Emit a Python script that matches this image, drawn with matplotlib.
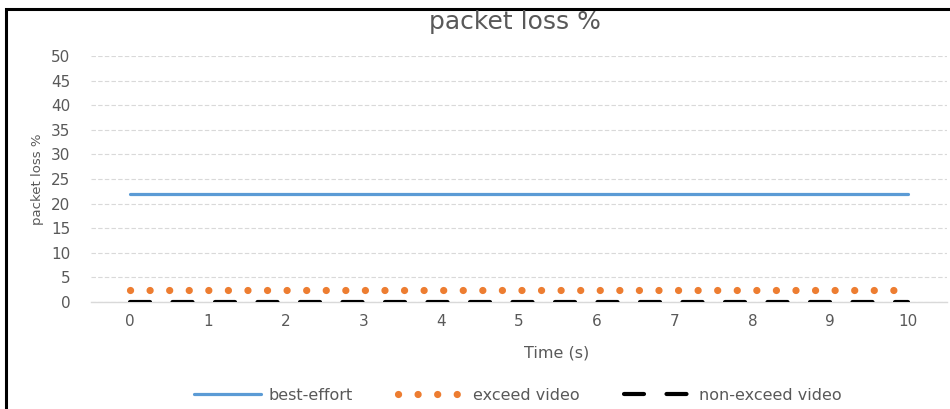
import matplotlib.pyplot as plt
from matplotlib.patches import Rectangle

# data
time_s = [0, 1, 2, 3, 4, 5, 6, 7, 8, 9, 10]
best_effort = [22, 22, 22, 22, 22, 22, 22, 22, 22, 22, 22]
exceed_video = [2.5, 2.5, 2.5, 2.5, 2.5, 2.5, 2.5, 2.5, 2.5, 2.5, 2.5]
non_exceed_video = [0, 0, 0, 0, 0, 0, 0, 0, 0, 0, 0]
y_ticks = [0, 5, 10, 15, 20, 25, 30, 35, 40, 45, 50]

grey = '#595959'
plt.rcParams['font.family'] = ['DejaVu Sans']

fig = plt.figure(figsize=(9.5, 4.09), dpi=100)
ax = fig.add_axes([91 / 950, 107 / 409, 856 / 950, 246 / 409])

ax.plot(time_s, best_effort, color='#5b9bd5', lw=2.3, solid_capstyle='round',
        label='best-effort')
ax.plot(time_s, exceed_video, color='#ed7d31', lw=5.2, linestyle=(0, (0.01, 2.7)),
        dash_capstyle='round', label='exceed video')
ax.plot(time_s, non_exceed_video, color='black', lw=3.0, linestyle=(0, (4.8, 5.4)),
        dash_capstyle='round', label='non-exceed video', zorder=3)

ax.set_xlim(-0.5, 10.5)
ax.set_ylim(0, 50)
ax.set_xticks(time_s)
ax.set_yticks(y_ticks)
ax.tick_params(axis='both', length=0, labelsize=11, labelcolor=grey)
ax.tick_params(axis='y', pad=15)
ax.tick_params(axis='x', pad=9)
ax.yaxis.grid(True, color='#d9d9d9', linestyle=(0, (4, 2)), lw=0.8)
ax.set_axisbelow(True)
for side in ['left', 'right', 'top']:
    ax.spines[side].set_visible(False)
ax.spines['bottom'].set_color('#d9d9d9')
ax.spines['bottom'].set_linewidth(1.0)
ax.spines['bottom'].set_zorder(1)

ax.set_xlabel('Time (s)', fontsize=11.5, color=grey, labelpad=11)
ax.xaxis.set_label_coords(0.544, -0.175)
ax.set_ylabel('packet loss %', fontsize=9.5, color=grey, labelpad=5)
fig.text(0.542, 0.945, 'packet loss %', ha='center', va='center', fontsize=18, color=grey)

fig.legend(loc='center', bbox_to_anchor=(0.545, 0.033), ncol=3, frameon=False,
           fontsize=11.5, labelcolor=grey, handlelength=4.2, handletextpad=0.5,
           columnspacing=2.8)

# black frame around the chart (cut by the right and bottom edges)
fig.patches.append(Rectangle((6 / 950, -0.05), 1.0, 1.05 - 9 / 409,
                             transform=fig.transFigure, fill=False,
                             edgecolor='black', lw=2.2))

fig.savefig('out.png', dpi=100)
